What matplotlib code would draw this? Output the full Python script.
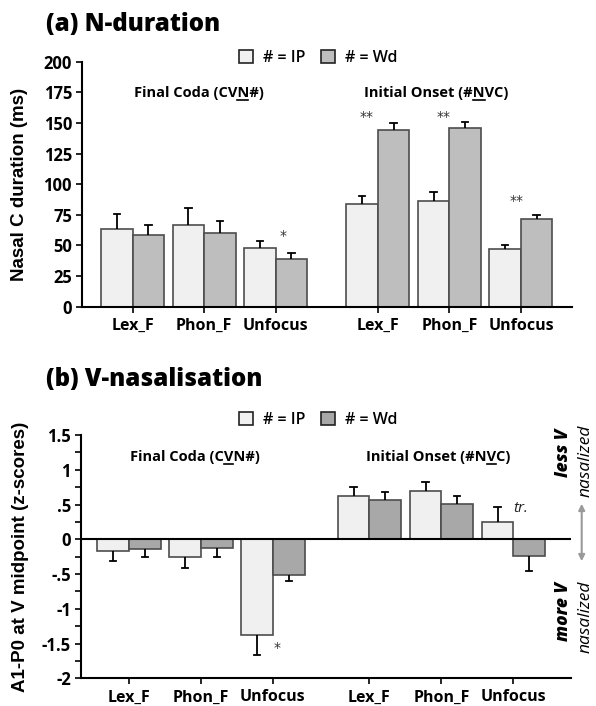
import matplotlib
matplotlib.use("Agg")
import matplotlib.pyplot as plt
from matplotlib.patches import Patch, FancyArrowPatch
from matplotlib.lines import Line2D
from matplotlib.transforms import IdentityTransform
import numpy as np

# ---------------- data ----------------
categories = ["Lex_F", "Phon_F", "Unfocus", "Lex_F", "Phon_F", "Unfocus"]
series_names = ["# = IP", "# = Wd"]

# (a) N-duration (ms)
dur_ip = [63.5, 66.8, 47.8, 84.0, 86.0, 46.8]
dur_ip_err = [12.3, 13.6, 5.7, 6.4, 7.8, 3.6]
dur_wd = [58.2, 60.2, 38.7, 144.0, 146.0, 72.0]
dur_wd_err = [8.3, 9.6, 5.3, 5.8, 5.0, 2.8]

# (b) V-nasalisation (A1-P0 z-scores)
nas_ip = [-0.17, -0.25, -1.37, 0.62, 0.70, 0.25]
nas_ip_err = [0.14, 0.17, 0.30, 0.13, 0.13, 0.22]
nas_wd = [-0.14, -0.13, -0.51, 0.57, 0.51, -0.24]
nas_wd_err = [0.11, 0.13, 0.09, 0.11, 0.11, 0.21]

dur_yticks = [0, 25, 50, 75, 100, 125, 150, 175, 200]
nas_yticks = [-2, -1.5, -1, -0.5, 0, 0.5, 1, 1.5]
nas_yticklabels = ["-2", "-1.5", "-1", "-.5", "0", ".5", "1", "1.5"]

# significance marks: (category index, offset, y, text)
dur_sig = [(2, 0.10, 58, "*"), (3, -0.16, 155, "**"), (4, -0.08, 155, "**"), (5, -0.06, 86, "**")]
nas_sig = [(2, 0.06, -1.56, "*")]

# ---------------- style ----------------
C_IP = "#f0f0f0"
C_WD_A = "#bebebe"
C_WD_B = "#a8a8a8"
EDGE = "#4d4d4d"
LABFONT = dict(family="Liberation Sans", fontweight="bold", fontsize=13.5)

fig = plt.figure(figsize=(5.96, 7.06), dpi=100)
W, H = 596, 706


def px_axes(l, r, t, b):
    return fig.add_axes([l / W, 1 - b / H, (r - l) / W, (b - t) / H])


axA = px_axes(81.7, 572, 61.7, 306.7)
axB = px_axes(80.7, 571, 435, 678.3)

bw = 0.44
posA = np.array([0, 1, 2, 3.43, 4.43, 5.43])
posB = np.array([0, 1, 2, 3.34, 4.34, 5.34])


def draw_err(ax, x, vals, errs):
    for xi, v, e in zip(x, vals, errs):
        end = v + e if v >= 0 else v - e
        ax.plot([xi, xi], [v, end], color="black", lw=1.3, zorder=3, solid_capstyle="butt")
        ax.plot([xi - 0.045, xi + 0.045], [end, end], color="black", lw=1.3, zorder=3)


def style_axes(ax):
    ax.spines["top"].set_visible(False)
    ax.spines["right"].set_visible(False)
    for s in ["left", "bottom"]:
        ax.spines[s].set_linewidth(1.5)
    ax.tick_params(axis="both", direction="out", length=4, width=1.2, pad=3)
    ax.tick_params(axis="y", labelsize=12)
    ax.tick_params(axis="x", labelsize=11.5, pad=4)
    for lab in ax.get_yticklabels() + ax.get_xticklabels():
        lab.set_family("Open Sans")
        lab.set_fontweight("bold")


# ---- panel A ----
axA.bar(posA - bw / 2, dur_ip, bw, color=C_IP, edgecolor=EDGE, lw=1.2, zorder=2)
axA.bar(posA + bw / 2, dur_wd, bw, color=C_WD_A, edgecolor=EDGE, lw=1.2, zorder=2)
draw_err(axA, posA - bw / 2, dur_ip, dur_ip_err)
draw_err(axA, posA + bw / 2, dur_wd, dur_wd_err)
axA.set_xlim(-0.713, 6.144)
axA.set_ylim(0, 200)
axA.set_yticks(dur_yticks)
axA.set_xticks(posA)
axA.set_xticklabels(categories)
style_axes(axA)
axA.set_ylabel("Nasal C duration (ms)", **LABFONT, labelpad=11)
for i, off, y, t in dur_sig:
    axA.text(posA[i] + off, y, t, ha="center", va="center", fontsize=10, color="#333333")

# ---- panel B ----
axB.bar(posB - bw / 2, nas_ip, bw, color=C_IP, edgecolor=EDGE, lw=1.2, zorder=2)
axB.bar(posB + bw / 2, nas_wd, bw, color=C_WD_B, edgecolor=EDGE, lw=1.2, zorder=2)
draw_err(axB, posB - bw / 2, nas_ip, nas_ip_err)
draw_err(axB, posB + bw / 2, nas_wd, nas_wd_err)
axB.set_xlim(-0.67, 6.14)
axB.set_ylim(-2, 1.5)
axB.set_yticks(nas_yticks)
axB.set_yticklabels(nas_yticklabels)
axB.set_yticks(np.arange(-1.75, 1.5, 0.5), minor=True)
axB.set_xticks(posB)
axB.set_xticklabels(categories)
style_axes(axB)
axB.tick_params(axis="y", which="minor", direction="out", length=4, width=1.2)
axB.axhline(0, color="black", lw=1.5, zorder=4)
axB.set_ylabel("A1-P0 at V midpoint (z-scores)", **LABFONT, labelpad=9)
for i, off, y, t in nas_sig:
    axB.text(posB[i] + off, y, t, ha="center", va="center", fontsize=10, color="#333333")
axB.text(posB[5] + 0.1, 0.44, "tr.", ha="center", va="center", fontsize=11,
         style="italic", family="Open Sans", color="#222222")

# ---- titles ----
TITLEFONT = dict(family="Open Sans", fontweight="heavy", fontsize=17.3)
fig.text(46 / W, 1 - 31 / H, "(a) N-duration", ha="left", va="baseline", **TITLEFONT)
fig.text(46 / W, 1 - 386 / H, "(b) V-nasalisation", ha="left", va="baseline", **TITLEFONT)

# ---- legends ----
for ly in [58, 420]:
    handles = [Patch(facecolor=C_IP, edgecolor="#222222", lw=1.2),
               Patch(facecolor=(C_WD_A if ly < 200 else C_WD_B), edgecolor="#222222", lw=1.2)]
    fig.legend(handles, series_names, loc="center", bbox_to_anchor=(318 / W, 1 - ly / H),
               ncol=2, frameon=False, handlelength=0.9, handleheight=0.9,
               handletextpad=0.6, columnspacing=1.0,
               prop=dict(family="Open Sans", size=11.5, weight="semibold"))

# ---- group labels with underline ----
GROUPFONT = dict(family="Open Sans", fontweight="bold", fontsize=10.5)
fig.canvas.draw()
renderer = fig.canvas.get_renderer()


def underlined(ax, x, y, pre, u, post):
    t = ax.text(x, y, pre + u + post, ha="center", va="baseline", **GROUPFONT)
    fig.canvas.draw()
    bb = t.get_window_extent(renderer)
    tmp = fig.text(0, 0, pre, **GROUPFONT)
    w1 = tmp.get_window_extent(renderer).width
    tmp.set_text(pre + u)
    w2 = tmp.get_window_extent(renderer).width
    tmp.remove()
    yb = ax.transData.transform((x, y))[1]
    fig.add_artist(Line2D([bb.x0 + w1, bb.x0 + w2 - 0.5], [yb - 2.5, yb - 2.5],
                          transform=IdentityTransform(), color="black", lw=1.2))


underlined(axA, 0.92, 171, "Final Coda (CV", "N", "#)")
underlined(axA, 4.25, 171, "Initial Onset (#", "N", "VC)")
underlined(axB, 0.92, 1.12, "Final Coda (C", "V", "N#)")
underlined(axB, 4.3, 1.12, "Initial Onset (#N", "V", "C)")

# ---- right side annotation ----
fig.text(564 / W, 1 - 453 / H, "less V", rotation=90, ha="center", va="center",
         family="Open Sans", style="italic", fontweight="heavy", fontsize=12.5)
fig.text(586 / W, 1 - 461 / H, "nasalized", rotation=90, ha="center", va="center",
         family="Open Sans", style="italic", fontsize=12.5)
fig.text(564 / W, 1 - 611 / H, "more V", rotation=90, ha="center", va="center",
         family="Open Sans", style="italic", fontweight="heavy", fontsize=12.5)
fig.text(586 / W, 1 - 617 / H, "nasalized", rotation=90, ha="center", va="center",
         family="Open Sans", style="italic", fontsize=12.5)
arr = FancyArrowPatch((581.7 / W, 1 - 501 / H), (581.7 / W, 1 - 564 / H),
                      transform=fig.transFigure, arrowstyle="<|-|>", mutation_scale=9,
                      color="#9a9a9a", lw=1.5)
fig.add_artist(arr)

fig.savefig("out.png", dpi=100)
